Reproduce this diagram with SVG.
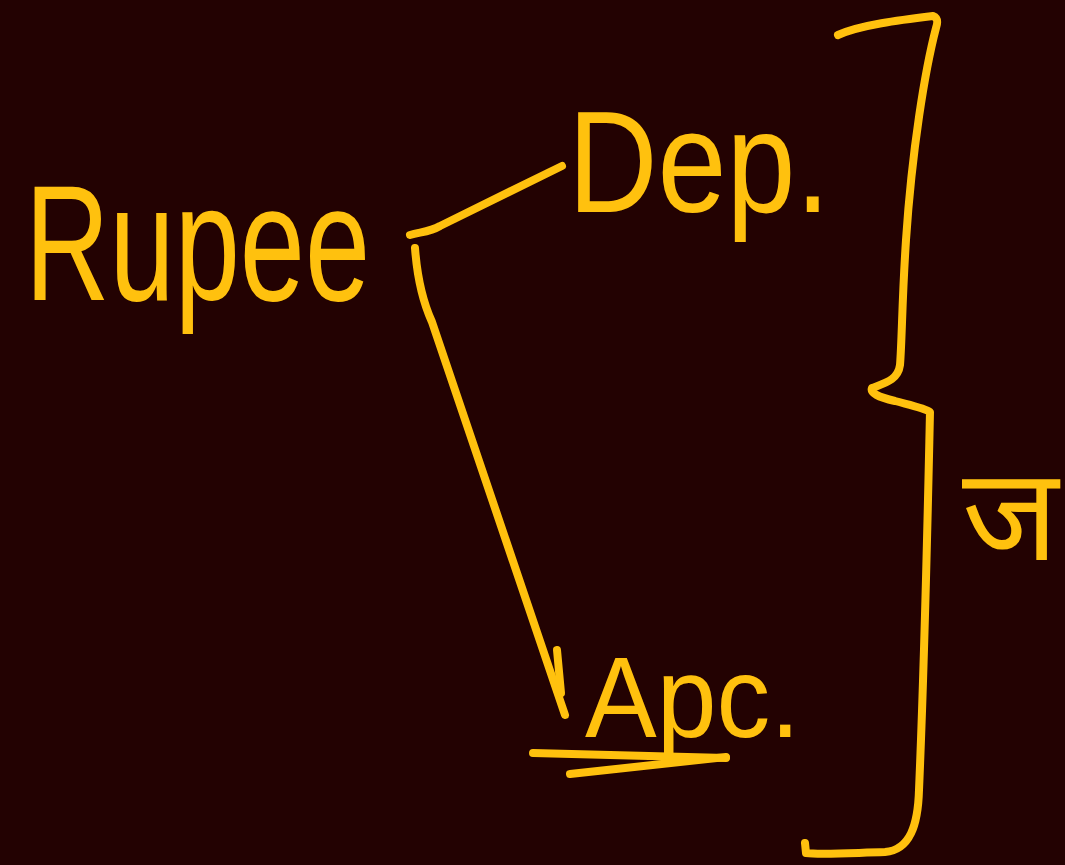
<svg xmlns="http://www.w3.org/2000/svg" width="1065" height="865" viewBox="0 0 1065 865">
  <style>
    .ink { fill: none; stroke: #FFC10E; stroke-width: 8; stroke-linecap: round; stroke-linejoin: round; }
    .hand { fill: #FFC10E; font-family: "Liberation Sans", "DejaVu Sans", sans-serif; }
  </style>
  <rect x="0" y="0" width="1065" height="865" fill="#230202"/>
  <g id="node-rupee">
    <text class="hand" x="25" y="300" font-size="165" textLength="345" lengthAdjust="spacingAndGlyphs">Rupee</text>
  </g>
  <g id="node-dep">
    <text class="hand" x="568" y="212" font-size="145" textLength="262" lengthAdjust="spacingAndGlyphs">Dep.</text>
  </g>
  <g id="node-apc">
    <text class="hand" x="585" y="737" font-size="115" textLength="215" lengthAdjust="spacingAndGlyphs">Apc.</text>
    <path class="ink" d="M533,753 L726,758"/>
    <path class="ink" d="M570,774 L726,757"/>
  </g>
  <g id="node-side">
    <text class="hand" x="962" y="560" font-size="130">ज</text>
  </g>
  <g id="brace">
    <path class="ink" d="M838,35 C860,25 900,20 933,16 C938,18 938,22 936,28 C925,70 912,150 906,240 C902,300 902,340 900,365 C898,380 885,383 872,388 C870,393 878,397 895,401 C910,405 925,408 930,412 C928,500 925,650 919,790 C918,825 910,850 885,852 C850,853 820,855 806,853 L805,843"/>
  </g>
  <g id="connectors">
    <path class="ink" d="M410,235 C420,232 430,232 440,226 L562,166"/>
    <path class="ink" d="M415,248 C417,275 422,300 432,322 L565,715"/>
    <path class="ink" d="M557,650 L561,693"/>
  </g>
</svg>
